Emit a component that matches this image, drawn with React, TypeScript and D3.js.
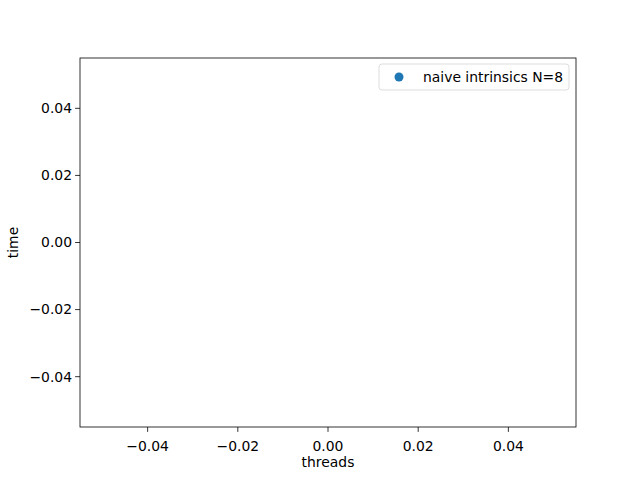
import React from 'react';
import * as d3 from 'd3';

const xTicks = [-0.04, -0.02, 0.0, 0.02, 0.04];
const yTicks = [-0.04, -0.02, 0.0, 0.02, 0.04];
const seriesLabel = 'naive intrinsics N=8';
const xDomain: [number, number] = [-0.055, 0.055];
const yDomain: [number, number] = [-0.055, 0.055];

const W = 640;
const H = 480;
const margin = { top: 58, right: 64, bottom: 53, left: 80 };
const font = 'DejaVu Sans, sans-serif';
const fs = 13.9;

const App: React.FC = () => {
  const iw = W - margin.left - margin.right;
  const ih = H - margin.top - margin.bottom;
  const x = d3.scaleLinear().domain(xDomain).range([0, iw]);
  const y = d3.scaleLinear().domain(yDomain).range([ih, 0]);
  const fmt = d3.format('.2f');

  return (
    <svg width={W} height={H} style={{ position: 'absolute', left: 0, top: 0 }} fontFamily={font}>
      <rect width={W} height={H} fill="#fff" />
      <g transform={`translate(${margin.left},${margin.top})`}>
        {xTicks.map((t) => (
          <g key={`x${t}`} transform={`translate(${x(t)},${ih})`}>
            <line y2={4.9} stroke="#000" strokeWidth={0.8} />
            <text y={19} textAnchor="middle" fontSize={fs} dy="0.35em">{fmt(t)}</text>
          </g>
        ))}
        {yTicks.map((t) => (
          <g key={`y${t}`} transform={`translate(0,${y(t)})`}>
            <line x2={-4.9} stroke="#000" strokeWidth={0.8} />
            <text x={-8} textAnchor="end" fontSize={fs} dy="0.35em">{fmt(t)}</text>
          </g>
        ))}
        <rect width={iw} height={ih} fill="none" stroke="#000" strokeWidth={0.8} />
        <text x={iw / 2} y={ih + 40} textAnchor="middle" fontSize={fs}>threads</text>
        <text transform={`translate(${-62},${ih / 2}) rotate(-90)`} textAnchor="middle" fontSize={fs}>time</text>
        <g transform={`translate(${iw - 197},6)`}>
          <rect width={190} height={26} rx={3} fill="#fff" stroke="#ccc" strokeWidth={0.8} opacity={0.8} />
          <circle cx={20} cy={13} r={4.5} fill="#1f77b4" />
          <text x={44} y={13} dy="0.35em" fontSize={fs}>{seriesLabel}</text>
        </g>
      </g>
    </svg>
  );
};

export default App;
